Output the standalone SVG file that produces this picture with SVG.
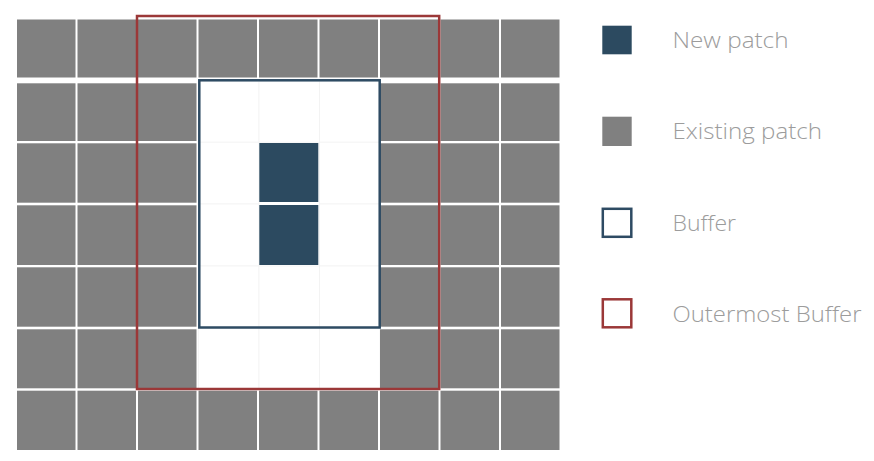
<svg xmlns="http://www.w3.org/2000/svg" xmlns:xlink="http://www.w3.org/1999/xlink" width="874" height="461" viewBox="0 0 874 461">
<style>
.ex{fill:#808080}
.wh{fill:#ffffff;stroke:#f2f2f2;stroke-width:0.8}
.np{fill:#2c4a60}
.buf{fill:none;stroke:#2e4b63;stroke-width:2.5}
.out{fill:none;stroke:#9b3838;stroke-width:2.5}
.lbl{font-family:"Open Sans","Liberation Sans",sans-serif;font-weight:300;font-size:22px;fill:#9c9c9c}
</style>
<rect width="874" height="461" fill="#ffffff"/>
<g id="grid">
<!-- row 1 -->
<rect class="ex" x="17" y="19.5" width="58.5" height="58"/>
<rect class="ex" x="77.5" y="19.5" width="58.5" height="58"/>
<rect class="ex" x="138" y="19.5" width="58.5" height="58"/>
<rect class="ex" x="198.5" y="19.5" width="58.5" height="58"/>
<rect class="ex" x="259" y="19.5" width="58.5" height="58"/>
<rect class="ex" x="319.5" y="19.5" width="58.5" height="58"/>
<rect class="ex" x="380" y="19.5" width="58.5" height="58"/>
<rect class="ex" x="440.5" y="19.5" width="58.5" height="58"/>
<rect class="ex" x="501" y="19.5" width="58.5" height="58"/>
<!-- row 2 -->
<rect class="ex" x="17" y="83.3" width="58.5" height="57.7"/>
<rect class="ex" x="77.5" y="83.3" width="58.5" height="57.7"/>
<rect class="ex" x="138" y="83.3" width="58.5" height="57.7"/>
<rect class="wh" x="198.5" y="81" width="60.5" height="61.2"/>
<rect class="wh" x="259" y="81" width="60.5" height="61.2"/>
<rect class="wh" x="319.5" y="81" width="60.5" height="61.2"/>
<rect class="ex" x="380" y="83.3" width="58.5" height="57.7"/>
<rect class="ex" x="440.5" y="83.3" width="58.5" height="57.7"/>
<rect class="ex" x="501" y="83.3" width="58.5" height="57.7"/>
<!-- row 3 -->
<rect class="ex" x="17" y="143.3" width="58.5" height="59.4"/>
<rect class="ex" x="77.5" y="143.3" width="58.5" height="59.4"/>
<rect class="ex" x="138" y="143.3" width="58.5" height="59.4"/>
<rect class="wh" x="198.5" y="142.2" width="60.5" height="61.8"/>
<rect class="wh" x="319.5" y="142.2" width="60.5" height="61.8"/>
<rect class="ex" x="380" y="143.3" width="58.5" height="59.4"/>
<rect class="ex" x="440.5" y="143.3" width="58.5" height="59.4"/>
<rect class="ex" x="501" y="143.3" width="58.5" height="59.4"/>
<!-- row 4 -->
<rect class="ex" x="17" y="205.3" width="58.5" height="59.7"/>
<rect class="ex" x="77.5" y="205.3" width="58.5" height="59.7"/>
<rect class="ex" x="138" y="205.3" width="58.5" height="59.7"/>
<rect class="wh" x="198.5" y="204" width="60.5" height="62"/>
<rect class="wh" x="319.5" y="204" width="60.5" height="62"/>
<rect class="ex" x="380" y="205.3" width="58.5" height="59.7"/>
<rect class="ex" x="440.5" y="205.3" width="58.5" height="59.7"/>
<rect class="ex" x="501" y="205.3" width="58.5" height="59.7"/>
<!-- row 5 -->
<rect class="ex" x="17" y="267.3" width="58.5" height="59.4"/>
<rect class="ex" x="77.5" y="267.3" width="58.5" height="59.4"/>
<rect class="ex" x="138" y="267.3" width="58.5" height="59.4"/>
<rect class="wh" x="198.5" y="266" width="60.5" height="62"/>
<rect class="wh" x="259" y="266" width="60.5" height="62"/>
<rect class="wh" x="319.5" y="266" width="60.5" height="62"/>
<rect class="ex" x="380" y="267.3" width="58.5" height="59.4"/>
<rect class="ex" x="440.5" y="267.3" width="58.5" height="59.4"/>
<rect class="ex" x="501" y="267.3" width="58.5" height="59.4"/>
<!-- row 6 -->
<rect class="ex" x="17" y="329.3" width="58.5" height="59"/>
<rect class="ex" x="77.5" y="329.3" width="58.5" height="59"/>
<rect class="ex" x="138" y="329.3" width="58.5" height="59"/>
<rect class="wh" x="198.5" y="328" width="60.5" height="61.5"/>
<rect class="wh" x="259" y="328" width="60.5" height="61.5"/>
<rect class="wh" x="319.5" y="328" width="60.5" height="61.5"/>
<rect class="ex" x="380" y="329.3" width="58.5" height="59"/>
<rect class="ex" x="440.5" y="329.3" width="58.5" height="59"/>
<rect class="ex" x="501" y="329.3" width="58.5" height="59"/>
<!-- row 7 -->
<rect class="ex" x="17" y="390.7" width="58.5" height="59.3"/>
<rect class="ex" x="77.5" y="390.7" width="58.5" height="59.3"/>
<rect class="ex" x="138" y="390.7" width="58.5" height="59.3"/>
<rect class="ex" x="198.5" y="390.7" width="58.5" height="59.3"/>
<rect class="ex" x="259" y="390.7" width="58.5" height="59.3"/>
<rect class="ex" x="319.5" y="390.7" width="58.5" height="59.3"/>
<rect class="ex" x="380" y="390.7" width="58.5" height="59.3"/>
<rect class="ex" x="440.5" y="390.7" width="58.5" height="59.3"/>
<rect class="ex" x="501" y="390.7" width="58.5" height="59.3"/>
</g>
<g id="new-patches">
<rect class="np" x="259.3" y="143" width="59" height="59"/>
<rect class="np" x="259.3" y="205" width="59" height="60"/>
</g>
<g id="buffer">
<rect class="buf" x="199.3" y="80.3" width="180.4" height="247.2"/>
</g>
<g id="outermost-buffer">
<rect class="out" x="137" y="16" width="302.2" height="373"/>
</g>
<g id="legend-new-patch">
<rect class="np" x="602.3" y="25.7" width="29.4" height="28.6"/>
<text class="lbl" x="672.5" y="48" textLength="116" lengthAdjust="spacingAndGlyphs">New patch</text>
</g>
<g id="legend-existing-patch">
<rect class="ex" x="602.3" y="116.7" width="29.4" height="29.3"/>
<text class="lbl" x="672.5" y="138.5" textLength="149.5" lengthAdjust="spacingAndGlyphs">Existing patch</text>
</g>
<g id="legend-buffer">
<rect class="buf" x="602.8" y="208.8" width="28.5" height="28"/>
<text class="lbl" x="672.5" y="231" textLength="63.5" lengthAdjust="spacingAndGlyphs">Buffer</text>
</g>
<g id="legend-outermost-buffer">
<rect class="out" x="602.8" y="299.3" width="28.5" height="28"/>
<text class="lbl" x="672.5" y="322" textLength="189" lengthAdjust="spacingAndGlyphs">Outermost Buffer</text>
</g>
</svg>
